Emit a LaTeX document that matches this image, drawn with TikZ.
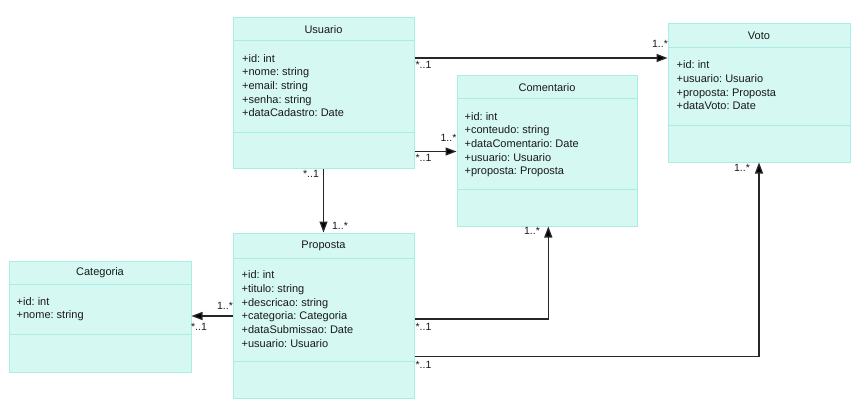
\documentclass[tikz,border=0pt]{standalone}
\usepackage{fontspec}
\setmainfont{Liberation Sans}
\usetikzlibrary{arrows.meta}
\definecolor{clsfill}{HTML}{D5F8F2}
\definecolor{clsline}{HTML}{A8EEE4}
\definecolor{conn}{HTML}{262626}
\frenchspacing
\begin{document}
\begin{tikzpicture}[x=1pt,y=-1pt,
 cls/.style={draw=clsline, fill=clsfill, line width=1pt, inner sep=0pt, rectangle},
 div/.style={draw=clsline, line width=1pt},
 ttl/.style={font=\fontsize{11}{13}\selectfont, text=black!90, inner sep=0pt},
 attrs/.style={font=\fontsize{11}{13.7}\selectfont\frenchspacing, align=left, anchor=north west, inner sep=0pt, text=black!90},
 mult/.style={font=\fontsize{10.5}{12}\selectfont, inner sep=0pt, text=black!90},
 assoc/.style={draw=conn, line width=1.3pt, -{Triangle[length=11pt,width=8pt,fill=black]}}]
\useasboundingbox (0,0) rectangle (868,420);

% Usuario
\node[cls, minimum width=181pt, minimum height=150pt] (usuario) at (323.5,93) {};
\draw[div] (233,41) -- (414,41);
\draw[div] (233,132) -- (414,132);
\node[ttl] (usuario-t) at (323.5,29.5) {Usuario};
\node[attrs] (usuario-a) at (242,54) {+id: int\\+nome: string\\+email: string\\+senha: string\\+dataCadastro: Date};

% Voto
\node[cls, minimum width=182pt, minimum height=138pt] (voto) at (759,93) {};
\draw[div] (668,48) -- (850,48);
\draw[div] (668,125) -- (850,125);
\node[ttl] (voto-t) at (759,36) {Voto};
\node[attrs] (voto-a) at (676.5,60.5) {+id: int\\+usuario: Usuario\\+proposta: Proposta\\+dataVoto: Date};

% Comentario
\node[cls, minimum width=180pt, minimum height=150pt] (coment) at (547,151) {};
\draw[div] (457,99) -- (637,99);
\draw[div] (457,189) -- (637,189);
\node[ttl] (coment-t) at (547,87.5) {Comentario};
\node[attrs] (coment-a) at (464.5,112) {+id: int\\+conteudo: string\\+dataComentario: Date\\+usuario: Usuario\\+proposta: Proposta};

% Proposta
\node[cls, minimum width=181pt, minimum height=165pt] (proposta) at (323.5,315.5) {};
\draw[div] (233,258) -- (414,258);
\draw[div] (233,361) -- (414,361);
\node[ttl] (proposta-t) at (323.5,245.5) {Proposta};
\node[attrs] (proposta-a) at (241.5,270.5) {+id: int\\+titulo: string\\+descricao: string\\+categoria: Categoria\\+dataSubmissao: Date\\+usuario: Usuario};

% Categoria
\node[cls, minimum width=182pt, minimum height=111pt] (categ) at (100,316.5) {};
\draw[div] (9,284) -- (191,284);
\draw[div] (9,334) -- (191,334);
\node[ttl] (categ-t) at (100,272.5) {Categoria};
\node[attrs] (categ-a) at (16.5,297) {+id: int\\+nome: string};

% Connectors
\coordinate (cv) at (548.3,319);
\coordinate (vv) at (759,356.7);
\draw[assoc] (usuario.east |- 0,58) -- (voto.west |- 0,58);
\draw[assoc] (usuario.east |- 0,151.5) -- (coment.west |- 0,151.5);
\draw[assoc] (usuario.south) -- (proposta.north);
\draw[assoc] (proposta.west |- 0,316) -- (categ.east |- 0,316);
\draw[assoc] (proposta.east |- cv) -- (cv) -- (cv |- coment.south);
\draw[assoc] (proposta.east |- vv) -- (vv) -- (vv |- voto.south);

% Multiplicities
\node[mult] (m1a) at (423.5,65) {*..1};
\node[mult] (m1b) at (660,44) {1..*};
\node[mult] (m2a) at (423.5,158) {*..1};
\node[mult] (m2b) at (448.5,137.7) {1..*};
\node[mult] (m3a) at (311,174) {*..1};
\node[mult] (m3b) at (340,225.7) {1..*};
\node[mult] (m4a) at (225,305.7) {1..*};
\node[mult] (m4b) at (199,326.7) {*..1};
\node[mult] (m5a) at (423.5,327) {*..1};
\node[mult] (m5b) at (532,231) {1..*};
\node[mult] (m6a) at (423.5,365) {*..1};
\node[mult] (m6b) at (742,167.7) {1..*};
\end{tikzpicture}
\end{document}
